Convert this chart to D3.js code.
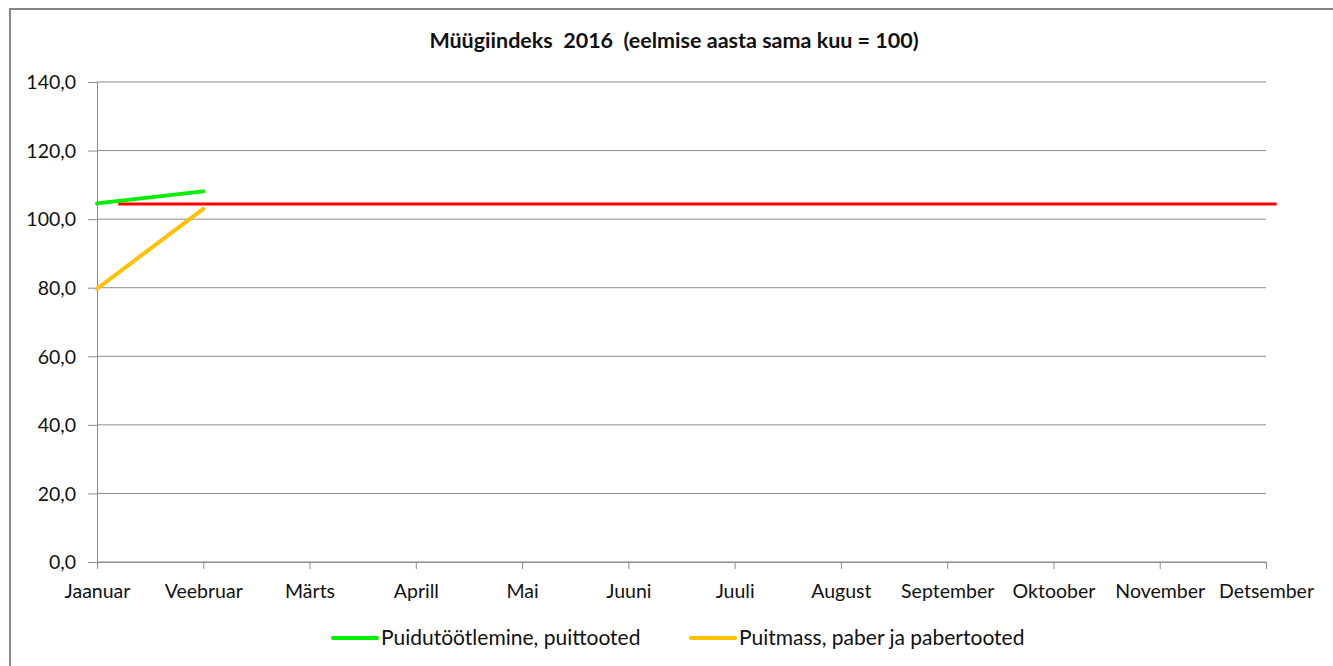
<!DOCTYPE html>
<html>
<head>
<meta charset="utf-8">
<script src="https://cdn.jsdelivr.net/npm/d3@7"></script>
<style>
  body { margin: 0; background: #fff; }
  text { font-family: Lato, "Open Sans", sans-serif; fill: #111; }
</style>
</head>
<body>
<div id="chart"></div>
<script>
// data
var months = ["Jaanuar", "Veebruar", "Märts", "Aprill", "Mai", "Juuni", "Juuli",
              "August", "September", "Oktoober", "November", "Detsember"];
var yTicks = [0, 20, 40, 60, 80, 100, 120, 140];
var puidutootlemine = [104.6, 108.1];   // Jaanuar, Veebruar
var puitmass = [79.7, 103.0];
// reference line: x in month index units, value
var refLine = [{i: 0.2, v: 104.4}, {i: 11.1, v: 104.4}];

var seriesNames = ["Puidutöötlemine, puittooted", "Puitmass, paber ja pabertooted"];
var colors = ["#00ee00", "#ffc000"];

var W = 1333, H = 666;
var margin = {top: 82, right: 67, bottom: 104, left: 97},
    width = W - margin.left - margin.right,
    height = H - margin.top - margin.bottom;

var svg = d3.select("#chart").append("svg")
    .attr("width", W).attr("height", H);

// frame
svg.append("rect")
  .attr("x", 10).attr("y", 9).attr("width", W).attr("height", H)
  .attr("fill", "none").attr("stroke", "#868686").attr("stroke-width", 2);

// title
svg.append("text")
  .attr("x", 674).attr("y", 48)
  .attr("text-anchor", "middle")
  .attr("xml:space", "preserve")
  .style("font-size", "21.5px").style("font-weight", "bold")
  .text("Müügiindeks  2016  (eelmise aasta sama kuu = 100)");

var g = svg.append("g")
  .attr("transform", "translate(" + margin.left + "," + margin.top + ")");

var x = d3.scaleLinear().domain([0, months.length - 1]).range([0, width]);
var y = d3.scaleLinear().domain([0, 140]).range([height, 0]);

// gridlines
g.append("g")
  .selectAll("line").data(yTicks).enter().append("line")
    .attr("x1", 0).attr("x2", width)
    .attr("y1", function(d) { return y(d); }).attr("y2", function(d) { return y(d); })
    .attr("stroke", "#8c8c8c").attr("stroke-width", 1);

// y axis
var yAxis = g.append("g")
  .call(d3.axisLeft(y).tickValues(yTicks).tickSize(9).tickPadding(12)
    .tickFormat(function(d) { return d3.format(".1f")(d).replace(".", ","); }));
yAxis.select(".domain").attr("stroke", "#8c8c8c");
yAxis.selectAll(".tick line").attr("stroke", "#8c8c8c");
yAxis.selectAll("text").style("font-size", "19.5px").attr("dy", "0.35em");

// x axis
var xAxis = g.append("g")
  .attr("transform", "translate(0," + height + ")")
  .call(d3.axisBottom(x).tickValues(d3.range(months.length)).tickSize(7).tickPadding(15)
    .tickFormat(function(d) { return months[d]; }));
xAxis.select(".domain").attr("stroke", "#8c8c8c");
xAxis.selectAll(".tick line").attr("stroke", "#8c8c8c");
xAxis.selectAll("text").style("font-size", "19.5px");

var line = d3.line()
  .x(function(d, i) { return x(i); })
  .y(function(d) { return y(d); });

// red reference line
g.append("path")
  .datum(refLine)
  .attr("fill", "none").attr("stroke", "#ff0000").attr("stroke-width", 3)
  .attr("d", d3.line()
    .x(function(d) { return x(d.i); })
    .y(function(d) { return y(d.v); }));

[puidutootlemine, puitmass].forEach(function(s, k) {
  g.append("path")
    .datum(s)
    .attr("fill", "none").attr("stroke", colors[k]).attr("stroke-width", 4)
    .attr("stroke-linecap", "round")
    .attr("d", line);
});

// legend
var legendX = [333, 691];
var legend = svg.append("g");
seriesNames.forEach(function(name, k) {
  legend.append("line")
    .attr("x1", legendX[k]).attr("x2", legendX[k] + 44)
    .attr("y1", 638).attr("y2", 638)
    .attr("stroke", colors[k]).attr("stroke-width", 4).attr("stroke-linecap", "round");
  legend.append("text")
    .attr("x", legendX[k] + 48).attr("y", 645)
    .style("font-size", "21px")
    .text(name);
});
</script>
</body>
</html>
